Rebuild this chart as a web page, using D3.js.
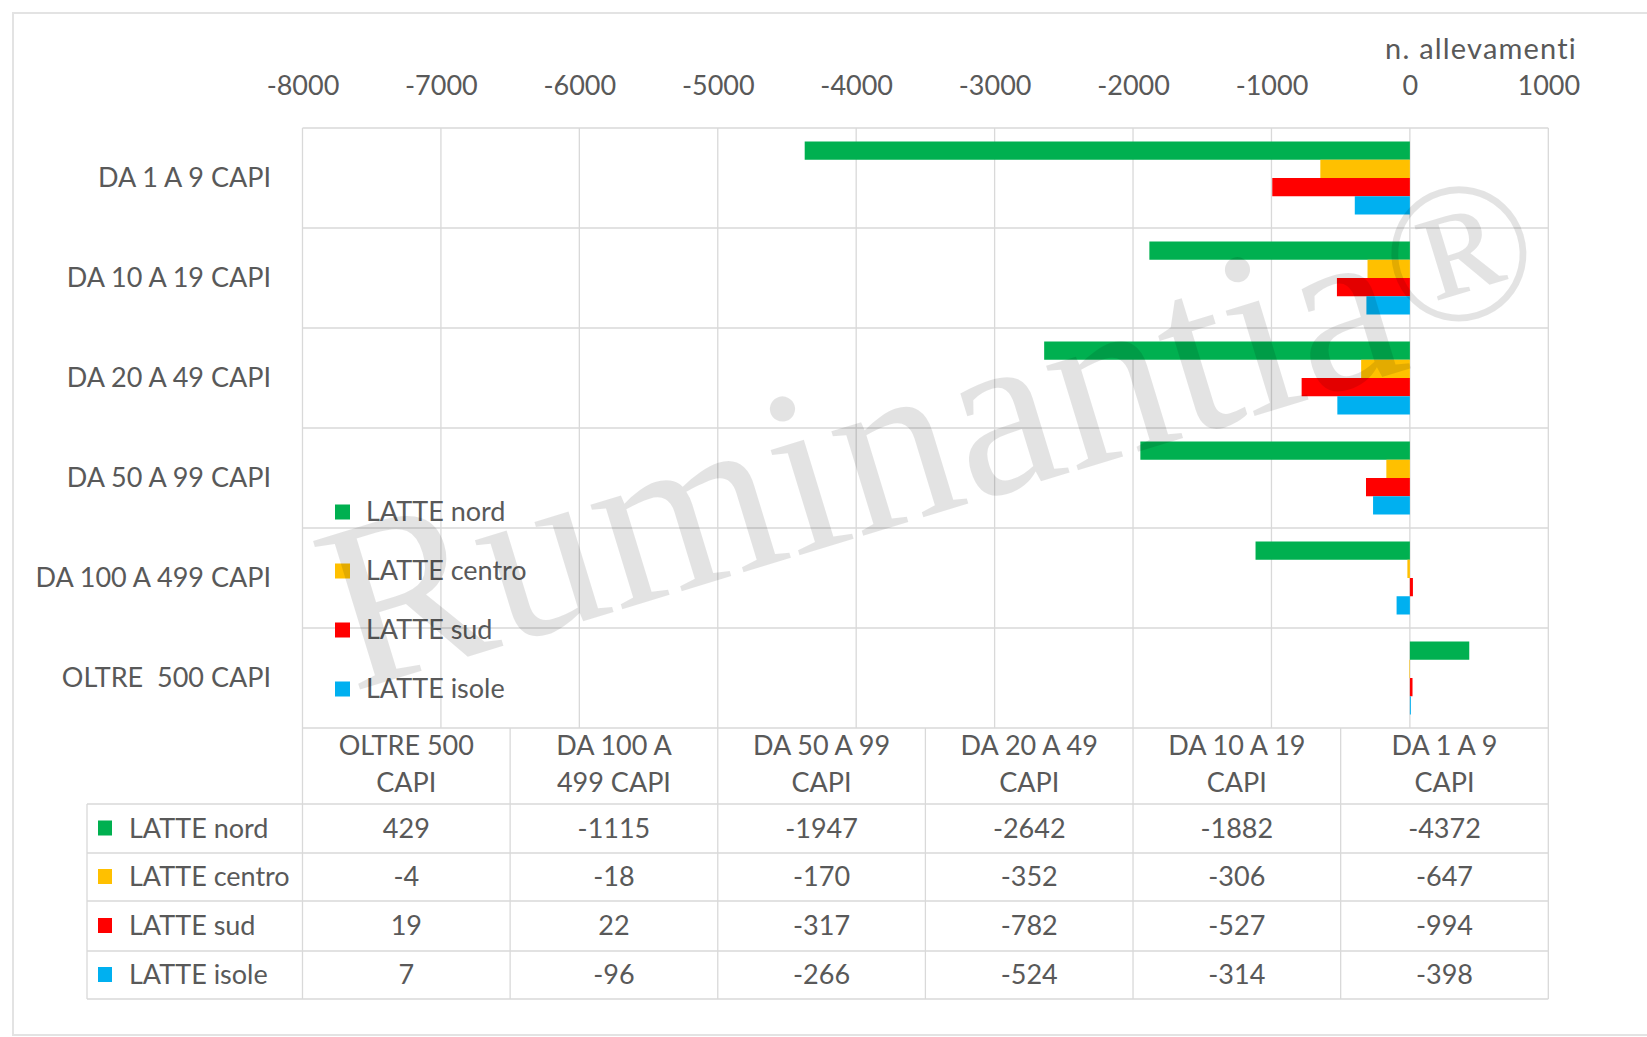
<!DOCTYPE html>
<html><head><meta charset="utf-8">
<script src="https://cdn.jsdelivr.net/npm/d3@7"></script>
<style>
html,body{margin:0;padding:0;background:#fff;}
svg{display:block;}
text{font-family:Lato,"Open Sans",sans-serif;}
</style></head>
<body>
<script>
// ---- data ----
const categories = ["DA 1 A 9 CAPI","DA 10 A 19 CAPI","DA 20 A 49 CAPI","DA 50 A 99 CAPI","DA 100 A 499 CAPI","OLTRE  500 CAPI"];
const tableHeaders = [["OLTRE 500","CAPI"],["DA 100 A","499 CAPI"],["DA 50 A 99","CAPI"],["DA 20 A 49","CAPI"],["DA 10 A 19","CAPI"],["DA 1 A 9","CAPI"]];
const seriesNames = ["LATTE nord","LATTE centro","LATTE sud","LATTE isole"];
const seriesColors = ["#00B050","#FFC000","#FF0000","#00B0F0"];
const latteNord   = [-4372, -1882, -2642, -1947, -1115, 429];
const latteCentro = [-647, -306, -352, -170, -18, -4];
const latteSud    = [-994, -527, -782, -317, 22, 19];
const latteIsole  = [-398, -314, -524, -266, -96, 7];
const xTicks = [-8000,-7000,-6000,-5000,-4000,-3000,-2000,-1000,0,1000];
const axisTitle = "n. allevamenti";
const watermark = "Ruminantia";

const seriesValues = [latteNord, latteCentro, latteSud, latteIsole];

const W = 1647, H = 1037;
const pL = 302.5, pR = 1548.3, pT = 128, pB = 728;
const txt = "#595959", grid = "#d9d9d9";

const svg = d3.select("body").append("svg").attr("width", W).attr("height", H);

// outer frame
svg.append("rect").attr("x",13).attr("y",13).attr("width",1700).attr("height",1022)
  .attr("fill","none").attr("stroke","#e3e3e3").attr("stroke-width",2);

const x = d3.scaleLinear().domain([-8000,1000]).range([pL,pR]);
const y = d3.scaleBand().domain(categories).range([pT,pB]).padding(0);
const bw = y.bandwidth();
const ys = d3.scaleBand().domain(seriesNames).range([bw*0.135, bw*0.865]).padding(0);

// grid vertical
svg.append("g").selectAll("line").data(xTicks).join("line")
  .attr("x1",d=>x(d)).attr("x2",d=>x(d)).attr("y1",pT).attr("y2",pB)
  .attr("stroke",grid).attr("stroke-width",1.3);
// grid horizontal
const bounds = categories.map(c=>y(c)).concat([pB]);
svg.append("g").selectAll("line").data(bounds).join("line")
  .attr("x1",pL).attr("x2",pR).attr("y1",d=>d).attr("y2",d=>d)
  .attr("stroke",grid).attr("stroke-width",1.3);

// top axis
const axis = d3.axisTop(x).tickValues(xTicks).tickSize(0).tickPadding(0).tickFormat(d=>String(d));
const ag = svg.append("g").attr("transform",`translate(0,${pT})`).call(axis);
ag.select(".domain").remove();
ag.selectAll("text").attr("y",-42).attr("dy","0.35em").attr("fill",txt)
  .style("font-size","27px").style("font-family","Lato");
svg.append("text").attr("x",1577).attr("y",49).attr("dy","0.35em").attr("text-anchor","end")
  .attr("fill",txt).style("font-size","29px").style("letter-spacing","1.2px").text(axisTitle);

// category labels
svg.append("g").selectAll("text").data(categories).join("text")
  .attr("x",271).attr("y",d=>y(d)+bw/2).attr("dy","0.35em").attr("text-anchor","end")
  .attr("fill",txt).style("font-size","27px").style("white-space","pre").text(d=>d);

// bars
const flat = [];
seriesNames.forEach((s,si)=>categories.forEach((c,ci)=>flat.push({s,c,v:seriesValues[si][ci],col:seriesColors[si]})));
svg.append("g").selectAll("rect").data(flat).join("rect")
  .attr("x",d=>Math.min(x(0),x(d.v))).attr("width",d=>Math.abs(x(d.v)-x(0)))
  .attr("y",d=>y(d.c)+ys(d.s)).attr("height",ys.bandwidth())
  .attr("fill",d=>d.col);

// in-plot legend
const lg = svg.append("g");
seriesNames.forEach((s,i)=>{
  const cy = 512 + i*59;
  lg.append("rect").attr("x",335).attr("y",cy-7.5).attr("width",15).attr("height",15).attr("fill",seriesColors[i]);
  lg.append("text").attr("x",366).attr("y",cy).attr("dy","0.35em").attr("fill",txt)
    .style("font-size","27px").text(s);
});

// data table
const tCats = categories.slice().reverse();
const tx = d3.scaleBand().domain(tCats).range([pL,pR]).padding(0);
const hdrTop = pB;
const rowEdges = [804, 853, 901, 951, 999];
const tLeft = 87;
const tg = svg.append("g");
tCats.forEach(c=>{
  tg.append("line").attr("x1",tx(c)).attr("x2",tx(c)).attr("y1",hdrTop).attr("y2",rowEdges[4])
    .attr("stroke",grid).attr("stroke-width",1.3);
});
tg.append("line").attr("x1",pR).attr("x2",pR).attr("y1",hdrTop).attr("y2",rowEdges[4]).attr("stroke",grid).attr("stroke-width",1.3);
tg.append("line").attr("x1",tLeft).attr("x2",tLeft).attr("y1",rowEdges[0]).attr("y2",rowEdges[4]).attr("stroke",grid).attr("stroke-width",1.3);
rowEdges.forEach(e=>{
  tg.append("line").attr("x1",tLeft).attr("x2",pR).attr("y1",e).attr("y2",e).attr("stroke",grid).attr("stroke-width",1.3);
});
tCats.forEach((c,i)=>{
  tableHeaders[i].forEach((line,li)=>{
    tg.append("text").attr("x",tx(c)+tx.bandwidth()/2).attr("y",746+li*36.5).attr("dy","0.35em")
      .attr("text-anchor","middle").attr("fill",txt).style("font-size","27px").text(line);
  });
});
seriesNames.forEach((s,si)=>{
  const cy = (rowEdges[si]+rowEdges[si+1])/2;
  tg.append("rect").attr("x",98).attr("y",cy-8).attr("width",14).attr("height",15).attr("fill",seriesColors[si]);
  tg.append("text").attr("x",129).attr("y",cy).attr("dy","0.35em").attr("fill",txt).style("font-size","27px").text(s);
  tCats.forEach(c=>{
    const ci = categories.indexOf(c);
    tg.append("text").attr("x",tx(c)+tx.bandwidth()/2).attr("y",cy).attr("dy","0.35em")
      .attr("text-anchor","middle").attr("fill",txt).style("font-size","27px")
      .text(String(seriesValues[si][ci]));
  });
});

// watermark
const wm = svg.append("text").attr("transform","translate(352,692) rotate(-17)")
  .attr("fill","#000").attr("fill-opacity",0.11)
  .style("font-family","'Liberation Serif',serif").style("font-size","238px");
wm.append("tspan").text(watermark);
wm.append("tspan").attr("dy",-30).style("font-size","200px").text("\u00AE");
</script>
</body></html>
